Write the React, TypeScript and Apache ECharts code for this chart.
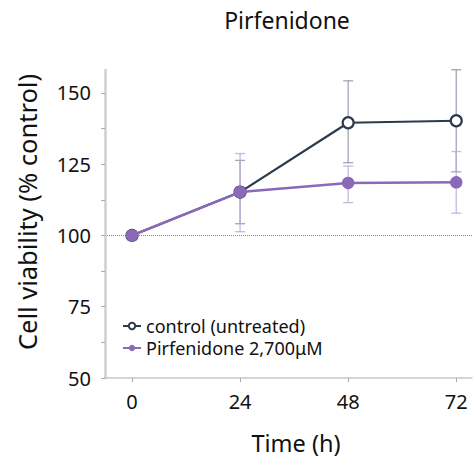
import React, { useEffect, useRef } from "react";
import * as echarts from "echarts";

const timePoints = [0, 24, 48, 72];
const controlMean = [100, 115.2, 139.5, 140.2];
const controlHigh = [100, 126.3, 154.2, 158.1];
const controlLow = [100, 104.1, 125.5, 122.3];
const pirMean = [100, 115.2, 118.4, 118.6];
const pirHigh = [100, 128.7, 124.3, 129.4];
const pirLow = [100, 101.3, 111.5, 107.8];
const yTickLabels = [50, 75, 100, 125, 150];
const yMinorTicks = [50, 62.5, 75, 87.5, 100, 112.5, 125, 137.5, 150];

const FONT = "Noto Sans";
const NAVY = "#2c3a4d";
const PURPLE = "#8b68b8";

function errorSeries(name: string, lows: number[], highs: number[], color: string, z: number) {
  const data = timePoints.map((t, i) => [t, lows[i], highs[i]]);
  return {
    type: "custom",
    name: name + "-err",
    z,
    silent: true,
    data,
    encode: { x: 0, y: [1, 2] },
    renderItem: (params: any, api: any) => {
      const x = api.value(0);
      const lo = api.coord([x, api.value(1)]);
      const hi = api.coord([x, api.value(2)]);
      const hw = 5;
      const style = { stroke: color, lineWidth: 1.3 };
      return {
        type: "group",
        children: [
          { type: "line", shape: { x1: lo[0], y1: lo[1], x2: hi[0], y2: hi[1] }, style },
          { type: "line", shape: { x1: lo[0] - hw, y1: lo[1], x2: lo[0] + hw, y2: lo[1] }, style },
          { type: "line", shape: { x1: hi[0] - hw, y1: hi[1], x2: hi[0] + hw, y2: hi[1] }, style },
        ],
      };
    },
  };
}

export default function App() {
  const ref = useRef<HTMLDivElement>(null);
  useEffect(() => {
    if (!ref.current) return;
    const chart = echarts.init(ref.current, null, { renderer: "svg" });
    chart.setOption({
      animation: false,
      textStyle: { fontFamily: FONT },
      legend: {
        orient: "vertical",
        left: 117,
        top: 312,
        itemGap: 4,
        itemWidth: 18,
        itemHeight: 8,
        data: ["control (untreated)", "Pirfenidone 2,700μM"],
        textStyle: { fontFamily: FONT, fontSize: 18, lineHeight: 18, color: "#111" },
      },
      grid: { left: 105, right: 3, top: 70, bottom: 82 },
      xAxis: {
        type: "value",
        min: -6,
        max: 75.5,
        axisLine: { show: true, onZero: false, lineStyle: { color: "#c8c8c8", width: 1.5 } },
        axisTick: { show: true, length: 4, customValues: timePoints, lineStyle: { color: "#aaa" } },
        axisLabel: {
          customValues: timePoints,
          fontSize: 20,
          color: "#111",
          margin: 13,
          fontFamily: FONT,
        },
        splitLine: { show: false },
      },
      yAxis: {
        type: "value",
        min: 50,
        max: 158,
        axisLine: { show: true, onZero: false, lineStyle: { color: "#cfcfcf", width: 2.5 } },
        axisTick: { show: true, length: 4, customValues: yMinorTicks, lineStyle: { color: "#aaa" } },
        axisLabel: {
          customValues: yTickLabels,
          fontSize: 20,
          color: "#111",
          margin: 14,
          fontFamily: FONT,
        },
        splitLine: { show: false },
      },
      graphic: [
        {
          type: "text",
          x: 287,
          y: 20,
          style: {
            text: "Pirfenidone",
            fontFamily: FONT,
            fontSize: 23,
            fill: "#111",
            align: "center",
            verticalAlign: "middle",
          },
        },
        {
          type: "text",
          x: 27,
          y: 212,
          rotation: Math.PI / 2,
          style: {
            text: "Cell viability (% control)",
            fontFamily: FONT,
            fontSize: 25.5,
            fill: "#111",
            align: "center",
            verticalAlign: "middle",
          },
        },
        {
          type: "text",
          x: 296,
          y: 443,
          style: {
            text: "Time (h)",
            fontFamily: FONT,
            fontSize: 23.5,
            fill: "#111",
            align: "center",
            verticalAlign: "middle",
          },
        },
      ],
      series: [
        errorSeries("control", controlLow, controlHigh, "rgba(130,138,158,0.75)", 1),
        errorSeries("pir", pirLow, pirHigh, "rgba(190,170,220,0.85)", 1),
        {
          name: "control (untreated)",
          type: "line",
          z: 3,
          data: timePoints.map((t, i) => [t, controlMean[i]]),
          symbol: "circle",
          symbolSize: 11,
          lineStyle: { color: NAVY, width: 2.2 },
          itemStyle: { color: "#fff", borderColor: NAVY, borderWidth: 2.2 },
          markLine: {
            silent: true,
            symbol: "none",
            label: { show: false },
            lineStyle: { color: "#888", type: "dotted", width: 1 },
            data: [{ yAxis: 100 }],
            z: 0,
          },
        },
        {
          name: "Pirfenidone 2,700μM",
          type: "line",
          z: 4,
          data: timePoints.map((t, i) => [t, pirMean[i]]),
          symbol: "circle",
          symbolSize: 12.5,
          lineStyle: { color: PURPLE, width: 2.5 },
          itemStyle: { color: PURPLE, borderColor: PURPLE, borderWidth: 0 },
        },
      ],
    });
    return () => chart.dispose();
  }, []);
  return (
    <div
      ref={ref}
      style={{ position: "absolute", left: 0, top: 0, width: 475, height: 460 }}
    />
  );
}
